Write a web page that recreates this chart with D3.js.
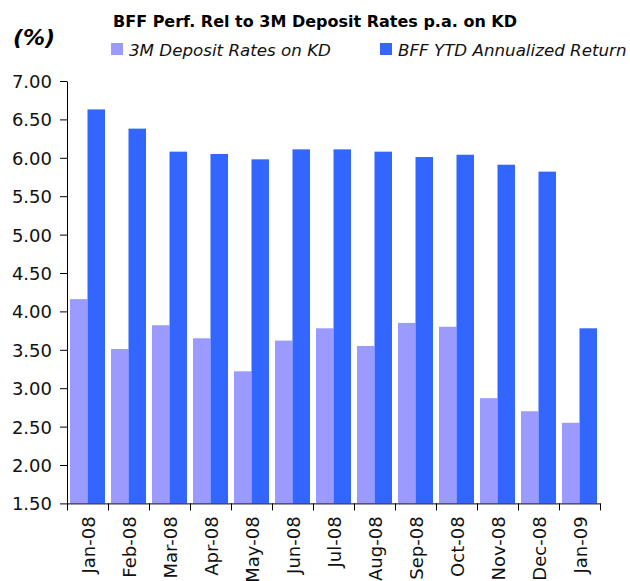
<!DOCTYPE html>
<html lang="en">
<head>
  <meta charset="UTF-8">
  <title>BFF Perf.</title>
  <script src="https://d3js.org/d3.v7.min.js"></script>
  <style>
    body { margin: 0; background: #fff; }
    svg { display: block; }
    .tick-label { font-family: "DejaVu Sans", sans-serif; font-size: 18px; fill: #111; }
  </style>
</head>
<body>
<svg width="630" height="581"></svg>
<script>
const months = ["Jan-08", "Feb-08", "Mar-08", "Apr-08", "May-08", "Jun-08", "Jul-08",
                "Aug-08", "Sep-08", "Oct-08", "Nov-08", "Dec-08", "Jan-09"];
const depositRates = [4.16, 3.51, 3.82, 3.65, 3.22, 3.62, 3.78, 3.55, 3.85, 3.80, 2.87, 2.70, 2.55];
const bffReturn    = [6.63, 6.38, 6.08, 6.05, 5.98, 6.11, 6.11, 6.08, 6.01, 6.04, 5.91, 5.82, 3.78];
const seriesNames = ["3M Deposit Rates on KD", "BFF YTD Annualized Return"];
const seriesColors = ["#9b9bff", "#3366ff"];
const yTicks = [1.5, 2, 2.5, 3, 3.5, 4, 4.5, 5, 5.5, 6, 6.5, 7];

const svg = d3.select("svg");
const plotLeft = 67, plotRight = 600, plotTop = 81, plotBottom = 503.4;

const x = d3.scaleBand()
  .domain(months)
  .range([plotLeft, plotRight])
  .paddingInner(0.146)
  .paddingOuter(0.073);

const x1 = d3.scaleBand()
  .domain([0, 1])
  .range([0, x.bandwidth()]);

const y = d3.scaleLinear()
  .domain([1.5, 7])
  .range([plotBottom, plotTop]);

// bars
const rows = months.map((m, i) => ({ month: m, values: [depositRates[i], bffReturn[i]] }));

svg.append("g")
  .selectAll("g")
  .data(rows)
  .join("g")
  .attr("transform", d => `translate(${x(d.month)},0)`)
  .selectAll("rect")
  .data(d => d.values.map((v, k) => ({ k, v })))
  .join("rect")
  .attr("x", d => x1(d.k))
  .attr("width", x1.bandwidth())
  .attr("y", d => y(d.v))
  .attr("height", d => y(1.5) - y(d.v))
  .attr("fill", d => seriesColors[d.k]);

// y axis
const yAxis = svg.append("g")
  .attr("transform", `translate(${plotLeft},0)`)
  .call(d3.axisLeft(y).tickValues(yTicks).tickFormat(d3.format(".2f")).tickSize(7).tickSizeOuter(0).tickPadding(8));
yAxis.select(".domain").attr("stroke", "#000");
yAxis.selectAll(".tick line").attr("stroke", "#000");
yAxis.selectAll("text").attr("class", "tick-label").attr("dy", "0.36em");

// x axis: ticks on category boundaries
const xb = d3.scaleLinear().domain([0, months.length]).range([plotLeft, plotRight]);
const xAxis = svg.append("g")
  .attr("transform", `translate(0,${plotBottom})`)
  .call(d3.axisBottom(xb).tickValues(d3.range(months.length + 1)).tickFormat("").tickSize(7).tickSizeOuter(0));
xAxis.select(".domain").attr("stroke", "#000");
xAxis.selectAll(".tick line").attr("stroke", "#000");

svg.append("g")
  .selectAll("text")
  .data(months)
  .join("text")
  .attr("class", "tick-label")
  .attr("text-anchor", "end")
  .attr("transform", d => `translate(${x(d) + x.bandwidth() / 2 + 7},${plotBottom + 13}) rotate(-90)`)
  .text(d => d);

// title
svg.append("text")
  .attr("x", 113)
  .attr("y", 27)
  .style("font-family", "'DejaVu Sans', sans-serif")
  .style("font-weight", "bold")
  .style("font-size", "16px")
  .attr("fill", "#000")
  .text("BFF Perf. Rel to 3M Deposit Rates p.a. on KD");

svg.append("text")
  .attr("x", 13)
  .attr("y", 45)
  .style("font-family", "'DejaVu Sans', sans-serif")
  .style("font-weight", "bold")
  .style("font-style", "italic")
  .style("font-size", "22px")
  .attr("fill", "#000")
  .text("(%)");

// legend
const legendX = [111, 380];
const legend = svg.append("g")
  .selectAll("g")
  .data(seriesNames)
  .join("g")
  .attr("transform", (d, i) => `translate(${legendX[i]},43)`);
legend.append("rect")
  .attr("width", 12).attr("height", 12)
  .attr("fill", (d, i) => seriesColors[i]);
legend.append("text")
  .attr("x", 18)
  .attr("y", 12.5)
  .style("font-family", "'DejaVu Sans', sans-serif")
  .style("font-style", "italic")
  .style("font-size", "16.7px")
  .attr("fill", "#111")
  .text(d => d);
</script>
</body>
</html>
